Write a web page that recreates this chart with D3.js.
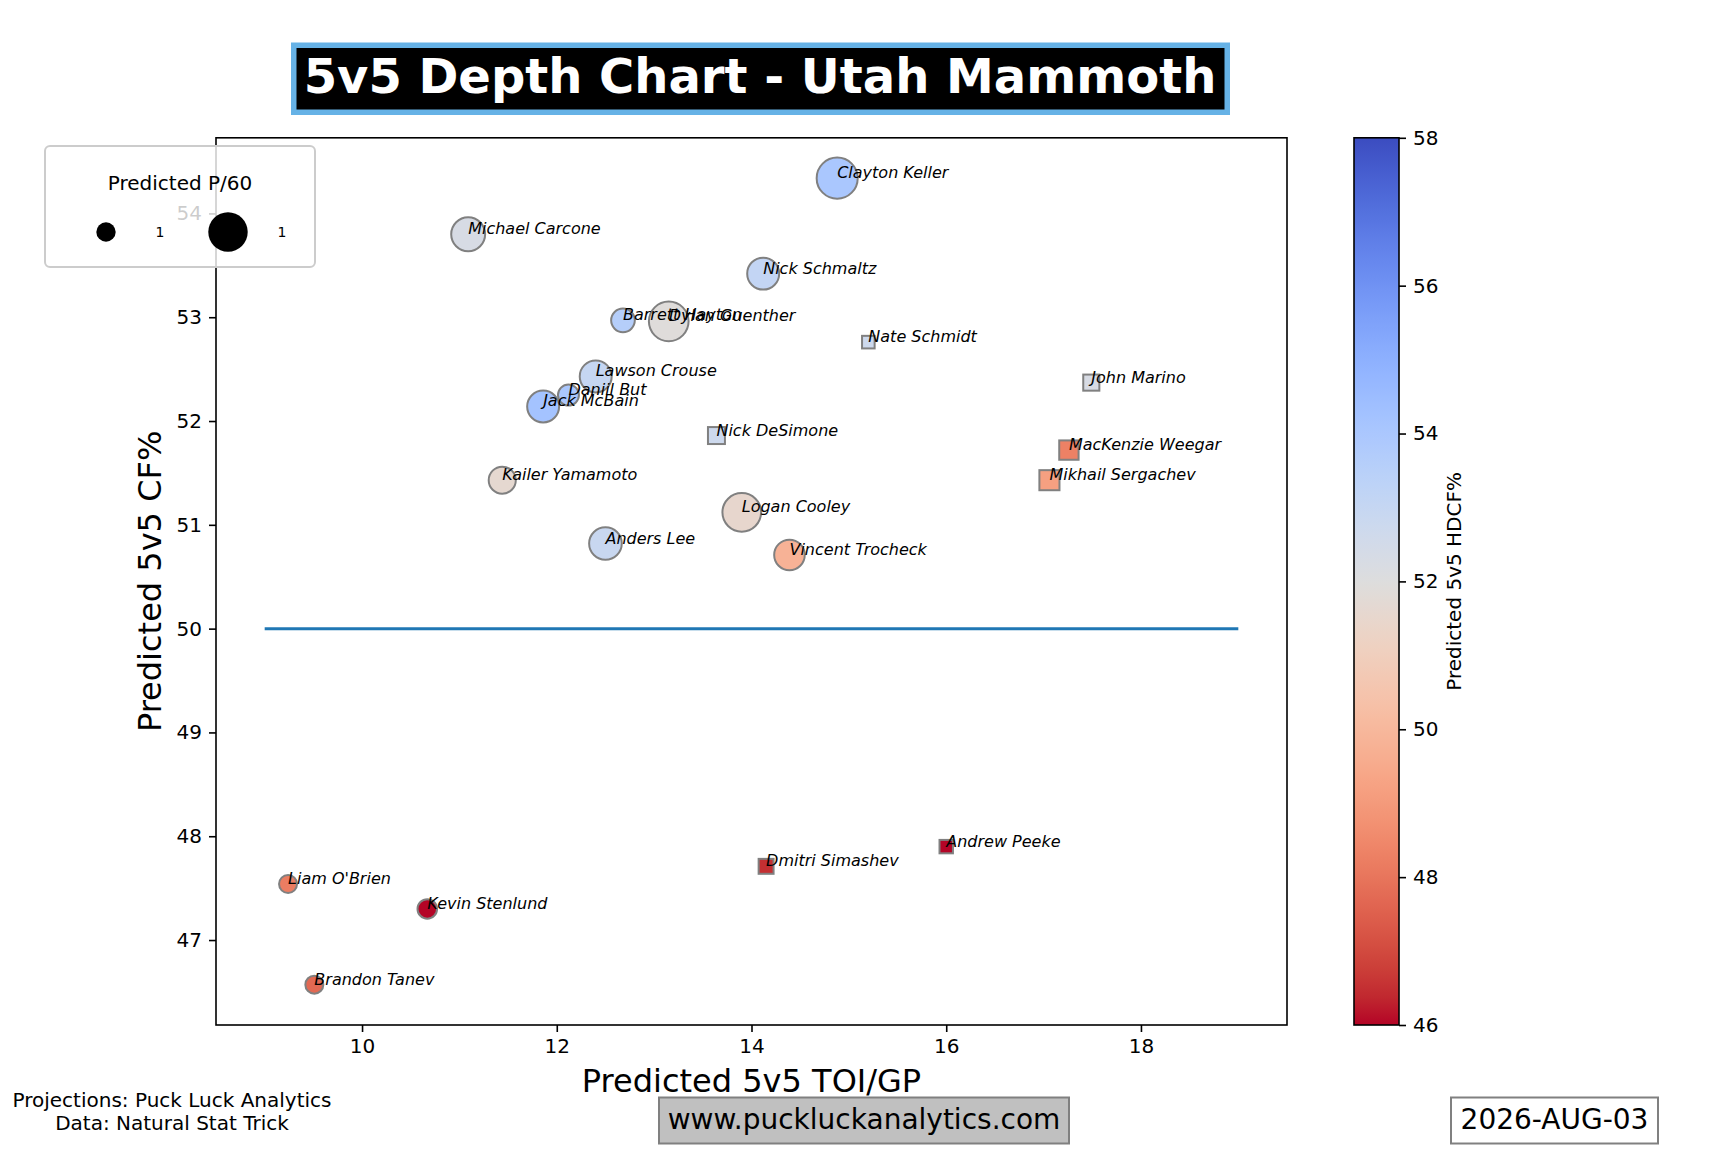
<!DOCTYPE html>
<html><head><meta charset="utf-8">
<script src="https://cdn.jsdelivr.net/npm/d3@7"></script>
<style>
body{margin:0;background:#fff}
svg{display:block}
text{font-family:"DejaVu Sans",sans-serif}
</style>
</head><body>
<svg id="chart" width="1728" height="1152"></svg>
<script>
// ---------------- data ----------------
const players = ["Liam O'Brien","Brandon Tanev","Kevin Stenlund","Kailer Yamamoto","Daniil But","Jack McBain",
  "Lawson Crouse","Anders Lee","Barrett Hayton","Michael Carcone","Dylan Guenther","Logan Cooley",
  "Nick Schmaltz","Vincent Trocheck","Clayton Keller",
  "Nick DeSimone","Dmitri Simashev","Nate Schmidt","Andrew Peeke","Mikhail Sergachev","MacKenzie Weegar","John Marino"];
const toiGP   = [9.24, 9.51, 10.67, 11.44, 12.12, 11.86, 12.40, 12.50, 12.68, 11.09, 13.15, 13.90, 14.12, 14.39, 14.88,
                 13.64, 14.15, 15.20, 16.00, 17.06, 17.26, 17.49];
const cfPct   = [47.54, 46.57, 47.30, 51.43, 52.25, 52.14, 52.43, 50.82, 52.97, 53.80, 52.96, 51.12, 53.42, 50.71, 54.34,
                 51.86, 47.71, 52.76, 47.90, 51.43, 51.72, 52.37];
const hdcfPct = [48.2, 47.7, 46.0, 51.6, 54.0, 54.2, 53.0, 52.9, 53.6, 52.3, 51.9, 51.5, 53.1, 49.8, 54.0,
                 52.7, 46.5, 52.7, 46.0, 49.2, 48.3, 52.3];
const p60     = [0.45, 0.45, 0.53, 1.02, 0.61, 1.42, 1.42, 1.48, 0.78, 1.60, 2.19, 2.08, 1.42, 1.30, 2.34,
                 0.40, 0.31, 0.22, 0.25, 0.56, 0.52, 0.36];
const position = ["F","F","F","F","F","F","F","F","F","F","F","F","F","F","F",
                  "D","D","D","D","D","D","D"];
const xTicks  = [10, 12, 14, 16, 18];
const yTicks  = [47, 48, 49, 50, 51, 52, 53, 54];
const cbTicks = [46, 48, 50, 52, 54, 56, 58];
const cbRange = [46, 58];
const refLineX = [9, 19];
const refLineY = 50;
const legendP60 = [0.52, 2.16];
const legendLabels = ["1", "1"];

// matplotlib "coolwarm" lookup (33 samples)
const coolwarm = [[59,76,192],[68,90,204],[77,104,215],[87,117,225],[98,130,234],[108,142,241],[119,154,247],
 [130,165,251],[141,176,254],[152,185,255],[163,194,255],[174,201,253],[184,208,249],[194,213,244],[204,217,238],
 [213,219,230],[221,221,221],[229,216,209],[236,211,197],[241,204,185],[245,196,173],[247,187,160],[247,177,148],
 [247,166,135],[244,154,123],[241,141,111],[236,127,99],[229,112,88],[222,96,77],[213,80,66],[203,62,56],
 [192,40,47],[180,4,38]];
const cwInterp = d3.scaleLinear()
  .domain(coolwarm.map((_, i) => i / (coolwarm.length - 1)))
  .range(coolwarm.map(c => d3.rgb(c[0], c[1], c[2]).toString()))
  .interpolate(d3.interpolateRgb).clamp(true);
// reversed map: low value = red, high value = blue
const color = v => cwInterp((cbRange[1] - v) / (cbRange[1] - cbRange[0]));

// ---------------- layout ----------------
const svg = d3.select("#chart");
svg.append("rect").attr("width", 1728).attr("height", 1152).attr("fill", "#fff");
const L = 216, R = 1287, T = 137.8, B = 1025;

const allX = toiGP.concat(refLineX), allY = cfPct;
const [xmn, xmx] = d3.extent(allX), [ymn, ymx] = d3.extent(allY);
const xPad = (xmx - xmn) * 0.05, yPad = (ymx - ymn) * 0.05;
const x = d3.scaleLinear().domain([xmn - xPad, xmx + xPad]).range([L, R]);
const y = d3.scaleLinear().domain([ymn - yPad, ymx + yPad]).range([B, T]);
const size = d3.scaleSqrt().domain([0, 1]).range([0, Math.sqrt(720)]); // marker diameter px

// title
svg.append("rect").attr("x", 293.75).attr("y", 45.25).attr("width", 933.5).attr("height", 67)
  .attr("fill", "#000").attr("stroke", "#66b2e6").attr("stroke-width", 5.5);
svg.append("text").attr("x", 760).attr("y", 93).attr("text-anchor", "middle")
  .attr("fill", "#fff").attr("font-weight", "bold").attr("font-size", 48)
  .text("5v5 Depth Chart - Utah Mammoth");

// axes
const gx = svg.append("g").attr("transform", `translate(0,${B})`)
  .call(d3.axisBottom(x).tickValues(xTicks).tickFormat(d3.format("d")).tickSize(7).tickPadding(7).tickSizeOuter(0));
const gy = svg.append("g").attr("transform", `translate(${L},0)`)
  .call(d3.axisLeft(y).tickValues(yTicks).tickFormat(d3.format("d")).tickSize(7).tickPadding(7).tickSizeOuter(0));
[gx, gy].forEach(g => {
  g.select(".domain").remove();
  g.selectAll(".tick line").attr("stroke", "#000").attr("stroke-width", 1.6);
  g.selectAll(".tick text").attr("font-size", 20).attr("fill", "#000").attr("font-family", "DejaVu Sans");
});

// reference line
svg.append("line").attr("x1", x(refLineX[0])).attr("x2", x(refLineX[1]))
  .attr("y1", y(refLineY)).attr("y2", y(refLineY))
  .attr("stroke", "#1f77b4").attr("stroke-width", 3);

// points
const idx = d3.range(players.length);
const plot = svg.append("g");
idx.forEach(i => {
  const cx = x(toiGP[i]), cy = y(cfPct[i]), d = size(p60[i]);
  if (position[i] === "F") {
    plot.append("circle").attr("cx", cx).attr("cy", cy).attr("r", d / 2)
      .attr("fill", color(hdcfPct[i])).attr("stroke", "#808080").attr("stroke-width", 2);
  } else {
    plot.append("rect").attr("x", cx - d / 2).attr("y", cy - d / 2).attr("width", d).attr("height", d)
      .attr("fill", color(hdcfPct[i])).attr("stroke", "#808080").attr("stroke-width", 2);
  }
});
// labels
idx.forEach(i => {
  svg.append("text").attr("x", x(toiGP[i])).attr("y", y(cfPct[i]))
    .attr("font-size", 16).attr("font-style", "italic").attr("fill", "#000").text(players[i]);
});

// spines
svg.append("rect").attr("x", L).attr("y", T).attr("width", R - L).attr("height", B - T)
  .attr("fill", "none").attr("stroke", "#000").attr("stroke-width", 1.6);

// axis labels
svg.append("text").attr("x", (L + R) / 2).attr("y", 1092).attr("text-anchor", "middle")
  .attr("font-size", 32).text("Predicted 5v5 TOI/GP");
svg.append("text").attr("transform", `translate(161,${(T + B) / 2}) rotate(-90)`).attr("text-anchor", "middle")
  .attr("font-size", 32).text("Predicted 5v5 CF%");

// colorbar
const cbL = 1354, cbW = 45;
const cy = d3.scaleLinear().domain(cbRange).range([B, T]);
const grad = svg.append("defs").append("linearGradient").attr("id", "cb")
  .attr("x1", 0).attr("y1", 1).attr("x2", 0).attr("y2", 0);
d3.range(0, 1.0001, 1 / 64).forEach(f => {
  grad.append("stop").attr("offset", f).attr("stop-color", color(cbRange[0] + f * (cbRange[1] - cbRange[0])));
});
svg.append("rect").attr("x", cbL).attr("y", T).attr("width", cbW).attr("height", B - T)
  .attr("fill", "url(#cb)").attr("stroke", "#000").attr("stroke-width", 1.6);
const gc = svg.append("g").attr("transform", `translate(${cbL + cbW},0)`)
  .call(d3.axisRight(cy).tickValues(cbTicks).tickFormat(d3.format("d")).tickSize(7).tickPadding(7).tickSizeOuter(0));
gc.select(".domain").remove();
gc.selectAll(".tick line").attr("stroke", "#000").attr("stroke-width", 1.6);
gc.selectAll(".tick text").attr("font-size", 20).attr("fill", "#000").attr("font-family", "DejaVu Sans");
svg.append("text").attr("transform", `translate(1461,${(T + B) / 2}) rotate(-90)`).attr("text-anchor", "middle")
  .attr("font-size", 20).text("Predicted 5v5 HDCF%");

// size legend
const lg = svg.append("g");
lg.append("rect").attr("x", 45).attr("y", 146).attr("width", 270).attr("height", 121).attr("rx", 5)
  .attr("fill", "#fff").attr("fill-opacity", 0.8).attr("stroke", "#cccccc").attr("stroke-width", 2);
lg.append("text").attr("x", 180).attr("y", 190).attr("text-anchor", "middle").attr("font-size", 20).text("Predicted P/60");
const legX = [106, 228], labX = [160, 282];
legendP60.forEach((v, i) => {
  lg.append("circle").attr("cx", legX[i]).attr("cy", 232).attr("r", size(v) / 2).attr("fill", "#000");
  lg.append("text").attr("x", labX[i]).attr("y", 237).attr("text-anchor", "middle").attr("font-size", 14).text(legendLabels[i]);
});

// footer
svg.append("text").attr("x", 172).attr("y", 1107).attr("text-anchor", "middle").attr("font-size", 20)
  .text("Projections: Puck Luck Analytics");
svg.append("text").attr("x", 172).attr("y", 1130).attr("text-anchor", "middle").attr("font-size", 20)
  .text("Data: Natural Stat Trick");
svg.append("rect").attr("x", 659).attr("y", 1097.5).attr("width", 410).attr("height", 46)
  .attr("fill", "#c0c0c0").attr("stroke", "#808080").attr("stroke-width", 2);
svg.append("text").attr("x", 864).attr("y", 1129).attr("text-anchor", "middle").attr("font-size", 28)
  .text("www.puckluckanalytics.com");
svg.append("rect").attr("x", 1451).attr("y", 1097.5).attr("width", 207).attr("height", 46)
  .attr("fill", "#fff").attr("stroke", "#808080").attr("stroke-width", 2);
svg.append("text").attr("x", 1554.5).attr("y", 1129).attr("text-anchor", "middle").attr("font-size", 28)
  .text("2026-AUG-03");
</script>
</body></html>
